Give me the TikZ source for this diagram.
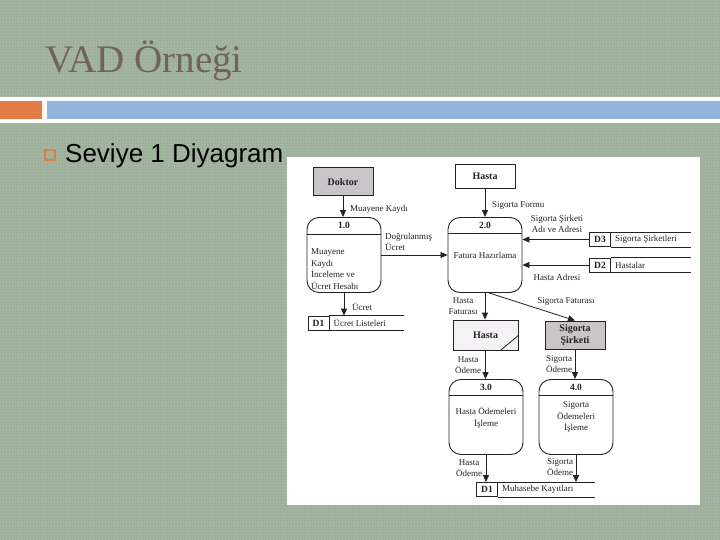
\documentclass[tikz,border=0pt]{standalone}
\usepackage{fontspec}
\setmainfont{Liberation Serif}
\newfontfamily\slidesans{Liberation Sans}
\usetikzlibrary{arrows.meta,positioning}

\definecolor{slidegreen}{RGB}{156,175,154}
\definecolor{gridgreen}{RGB}{172,190,170}
\definecolor{barblue}{RGB}{147,181,219}
\definecolor{barorange}{RGB}{226,125,70}
\definecolor{titlebrown}{RGB}{112,100,90}
\definecolor{entgray}{RGB}{200,196,200}
\definecolor{entlight}{RGB}{244,242,244}
\definecolor{ink}{RGB}{35,35,35}

\tikzset{
  lbl/.style={font=\fontsize{9}{11.5}\selectfont, text=ink, inner sep=0pt, align=center},
  hdr/.style={font=\fontsize{9.5}{11}\selectfont\bfseries, text=ink, inner sep=0pt},
  ent/.style={draw=ink, line width=0.8pt, minimum width=60pt, minimum height=28pt, inner sep=0pt,
    font=\fontsize{10}{12}\selectfont\bfseries, text=ink, align=center},
  proc/.style={draw=ink, line width=0.9pt, rounded corners=12pt, minimum width=74pt,
    minimum height=75pt, inner sep=0pt},
  sid/.style={draw=ink, line width=0.8pt, minimum width=21pt, minimum height=14pt, inner sep=0pt,
    font=\fontsize{9.5}{11}\selectfont\bfseries, text=ink},
  storeline/.style={draw=ink, line width=0.8pt},
  flow/.style={draw=ink, line width=0.8pt, -{Triangle[length=7pt,width=6pt]}},
}

\begin{document}
\begin{tikzpicture}[x=1pt, y=-1pt]
    \useasboundingbox (0,0) rectangle (720,540);

    % Slide background
    \fill[slidegreen] (0,0) rectangle (720,540);
    \draw[gridgreen, line width=0.3pt, opacity=0.5, step=3pt] (0,540) grid (720,0);

    % Title and bars
    \node[anchor=base west, inner sep=0pt, text=titlebrown, font=\fontsize{39}{42}\selectfont]
        (title) at (45,73) {VAD Örneği};
    \fill[white] (0,97) rectangle (720,123);
    \fill[barorange] (0,101) rectangle (42,119);
    \fill[barblue] (47,101) rectangle (720,119);

    % Bullet
    \draw[barorange, line width=1.5pt] (45,150) rectangle (55,160);
    \node[anchor=base west, inner sep=0pt, font=\slidesans\fontsize{26}{28}\selectfont]
        (bullet) at (65,163) {Seviye 1 Diyagram};

    % Scanned diagram area
    \fill[white] (287,157) rectangle (700,505);

    % External entities
    \node[ent, fill=entgray, line width=1pt] (doktor) at (343,182) {Doktor};
    \node[ent, minimum height=24pt] (hasta) at (485,176) {Hasta};
    \node[ent, fill=entlight, minimum width=65pt, minimum height=30pt] (hasta2) at (485.5,335) {Hasta};
    \draw[ink, line width=0.8pt] ([xshift=-18pt]hasta2.south east) -- ([yshift=15pt]hasta2.south east);
    \node[ent, fill=entgray, line width=1pt] (sirket) at (575,335) {Sigorta\\Şirketi};

    % Processes
    \node[proc] (p1) at (344,255) {};
    \draw[ink, line width=0.8pt] ([yshift=-17pt]p1.north west) -- ([yshift=-17pt]p1.north east);
    \node[hdr] (p1n) at ([yshift=-8.5pt]p1.north) {1.0};
    \node[lbl, align=left, anchor=west] (p1t) at (311,269) {Muayene\\Kaydı\\İnceleme ve\\Ücret Hesabı};

    \node[proc] (p2) at (485,255) {};
    \draw[ink, line width=0.8pt] ([yshift=-16pt]p2.north west) -- ([yshift=-16pt]p2.north east);
    \node[hdr] (p2n) at ([yshift=-8pt]p2.north) {2.0};
    \node[lbl] (p2t) at (485,255) {Fatura Hazırlama};

    \node[proc] (p3) at (486,417) {};
    \draw[ink, line width=0.8pt] ([yshift=-16pt]p3.north west) -- ([yshift=-16pt]p3.north east);
    \node[hdr] (p3n) at ([yshift=-8pt]p3.north) {3.0};
    \node[lbl] (p3t) at (486,418) {Hasta Ödemeleri\\İşleme};

    \node[proc] (p4) at (576,417) {};
    \draw[ink, line width=0.8pt] ([yshift=-16pt]p4.north west) -- ([yshift=-16pt]p4.north east);
    \node[hdr] (p4n) at ([yshift=-8pt]p4.north) {4.0};
    \node[lbl] (p4t) at (576,417) {Sigorta\\Ödemeleri\\İşleme};

    % Data stores
    \node[sid] (d1) at (318.5,323) {D1};
    \draw[storeline] (d1.north east) -- ++(75,0) (d1.south east) -- ++(75,0);
    \node[lbl, anchor=west] (d1t) at ([xshift=4pt]d1.east) {Ücret Listeleri};

    \node[sid] (d3) at (600,239.5) {D3};
    \draw[storeline] (d3.north east) -- ++(80,0) (d3.south east) -- ++(80,0);
    \node[lbl, anchor=west] (d3t) at ([xshift=4pt]d3.east) {Sigorta Şirketleri};

    \node[sid] (d2) at (600,265) {D2};
    \draw[storeline] (d2.north east) -- ++(80,0) (d2.south east) -- ++(80,0);
    \node[lbl, anchor=west] (d2t) at ([xshift=4pt]d2.east) {Hastalar};

    \node[sid] (d4) at (487,489.5) {D1};
    \draw[storeline] (d4.north east) -- ++(97,0) (d4.south east) -- ++(97,0);
    \node[lbl, anchor=west] (d4t) at ([xshift=4pt]d4.east) {Muhasebe Kayıtları};

    % Data flows
    \draw[flow] (doktor.south) -- (doktor.south |- p1.north);
    \node[lbl, anchor=west] (fMuayene) at (350,209) {Muayene Kaydı};

    \draw[flow] (hasta.south) -- (hasta.south |- p2.north);
    \node[lbl, anchor=west] (fForm) at (492,205) {Sigorta Formu};

    \draw[flow] (p1.east) -- (p2.west);
    \node[lbl, align=left, anchor=west] (fDogru) at (385,242) {Doğrulanmış\\Ücret};

    \draw[flow] (d3.west) -- (d3.west -| p2.east);
    \node[lbl] (fSirket) at (557,224) {Sigorta Şirketi\\Adı ve Adresi};

    \draw[flow] (d2.west) -- (d2.west -| p2.east);
    \node[lbl] (fAdres) at (557,277) {Hasta Adresi};

    \draw[flow] (p1.south) -- (p1.south |- d1.north);
    \node[lbl, anchor=west] (fUcret) at (352,307) {Ücret};

    \draw[flow] (p2.south) -- (p2.south |- hasta2.north);
    \node[lbl] (fFatura) at (463,306) {Hasta\\Faturası};

    \draw[flow] ([xshift=4pt]p2.south) -- (sirket.north);
    \node[lbl] (fSFatura) at (566,301) {Sigorta Faturası};

    \draw[flow] (hasta2.south) -- (hasta2.south |- p3.north);
    \node[lbl] (fOdeme1) at (468,365) {Hasta\\Ödeme};

    \draw[flow] (sirket.south) -- (sirket.south |- p4.north);
    \node[lbl] (fOdeme2) at (559,364) {Sigorta\\Ödeme};

    \draw[flow] (p3.south) -- (p3.south |- d4.north);
    \node[lbl] (fOdeme3) at (469,468) {Hasta\\Ödeme};

    \draw[flow] (p4.south) -- (p4.south |- d4.north);
    \node[lbl] (fOdeme4) at (560,467) {Sigorta\\Ödeme};
\end{tikzpicture}
\end{document}
